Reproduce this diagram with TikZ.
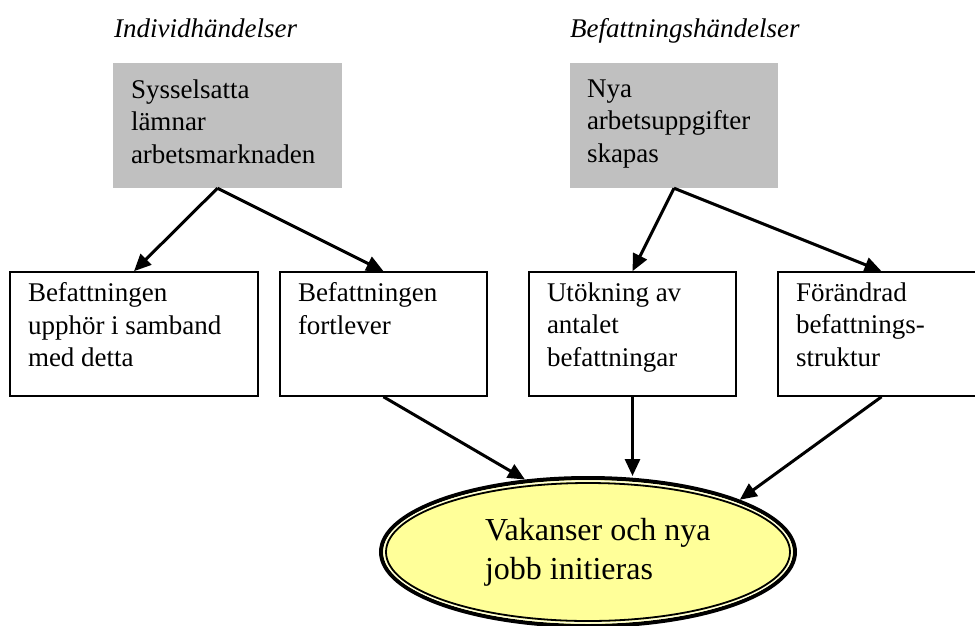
\documentclass[tikz,border=0pt]{standalone}
\usepackage{fontspec}
\setmainfont{Liberation Serif}
\usepackage{tikz}
\usetikzlibrary{positioning, arrows.meta, shapes.geometric}
\definecolor{eventGray}{RGB}{192, 192, 192}
\definecolor{vacYellow}{RGB}{255, 255, 153}
\newcommand{\boxtext}[3]{\parbox[c][#2][t]{#1}{\raggedright #3}}
\tikzset{
  headtext/.style={anchor=base west, inner sep=0pt,
                   font=\fontsize{27}{32.5}\selectfont\itshape},
  eventbox/.style={rectangle, fill=eventGray, inner sep=0pt,
                   minimum height=125pt, align=left,
                   font=\fontsize{27}{32.5}\selectfont},
  resultbox/.style={rectangle, draw=black, line width=1.6pt, fill=white,
                    inner sep=0pt, minimum height=124pt, align=left,
                    font=\fontsize{27}{32.5}\selectfont},
  vacancy/.style={ellipse, draw=black, line width=4pt, fill=vacYellow,
                  minimum width=414pt, minimum height=148pt, inner sep=0pt,
                  font=\fontsize{32}{39}\selectfont},
  flow/.style={-{Triangle[length=17pt, width=15pt]}, line width=3pt},
}

\begin{document}
\begin{tikzpicture}[x=1pt, y=-1pt]
    \useasboundingbox (0,0) rectangle (975,625);

    % Top: headings
    \node[headtext] (hInd) at (114,37) {Individhändelser};
    \node[headtext] (hBef) at (570,37) {Befattningshändelser};

    % Events
    \node[eventbox, minimum width=229pt] (evA) at (227.5,125.5)
         {\boxtext{193pt}{92pt}{Sysselsatta\\lämnar\\arbetsmarknaden}};
    \node[eventbox, minimum width=208pt] (evB) at (674,125.5)
         {\boxtext{174pt}{92pt}{Nya\\arbetsuppgifter\\skapas}};

    % Consequences
    \node[resultbox, minimum width=248pt] (rA) at (134,334)
         {\boxtext{212pt}{103pt}{Befattningen\\upphör i samband\\med detta}};
    \node[resultbox, minimum width=207pt] (rB) at (383.5,334)
         {\boxtext{171pt}{103pt}{Befattningen\\fortlever}};
    \node[resultbox, minimum width=207pt] (rC) at (632.5,334)
         {\boxtext{171pt}{103pt}{Utökning av\\antalet\\befattningar}};
    \node[resultbox, minimum width=207pt] (rD) at (881.5,334)
         {\boxtext{171pt}{103pt}{Förändrad\\befattnings-\\struktur}};

    % Bottom: outcome (double rim)
    \node[vacancy] (vac) at (588,552)
         {\parbox{250pt}{\leftskip=22pt Vakanser och nya\\jobb initieras}};
    \draw[line width=1.3pt, vacYellow!30] (vac.center) ellipse [x radius=204pt, y radius=71pt];
    \draw[line width=1.8pt] (vac.center) ellipse [x radius=202pt, y radius=69pt];

    % Connections
    \draw[flow] ([xshift=-10pt]evA.south) -- (rA.north);
    \draw[flow] ([xshift=-10pt]evA.south) -- (rB.north);
    \draw[flow] (evB.south) -- (rC.north);
    \draw[flow] (evB.south) -- (rD.north);
    \draw[flow] (rB.south) -- (vac.131);
    \draw[flow] (rC.south) -- (rC.south |- vac.north);
    \draw[flow] (rD.south) -- (vac.19);
\end{tikzpicture}
\end{document}
